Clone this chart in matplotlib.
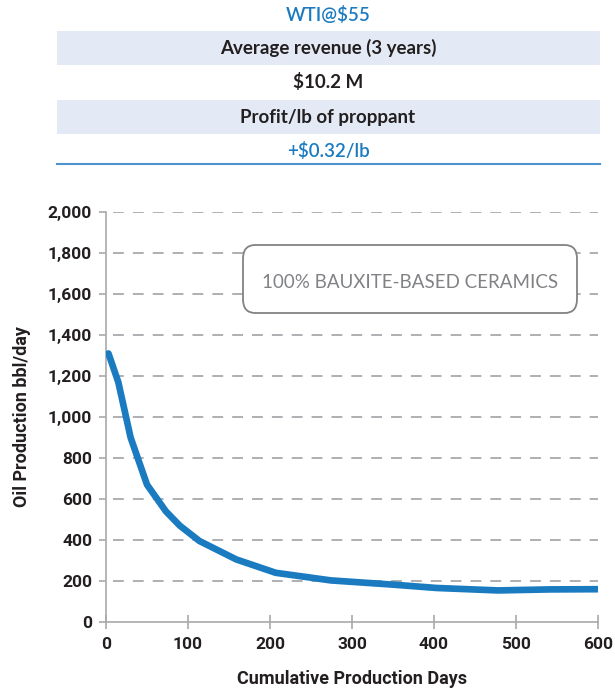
import matplotlib.pyplot as plt
from matplotlib.patches import FancyBboxPatch, Rectangle

# data
days = [3, 15, 30, 50, 73, 90, 114, 159, 207, 274, 351, 403, 478, 542, 600]
oil = [1310, 1170, 900, 670, 540, 470, 395, 305, 240, 203, 182, 166, 154, 159, 160]
y_ticks = [0, 200, 400, 600, 800, 1000, 1200, 1400, 1600, 1800, 2000]
x_ticks = [0, 100, 200, 300, 400, 500, 600]
table_rows = ['WTI@$55', 'Average revenue (3 years)', '$10.2 M', 'Profit/lb of proppant', '+$0.32/lb']

blue = '#1a7bc1'
gray = '#a7a9ac'
dark = '#231f20'
cond = dict(family=['Liberation Sans Narrow', 'Roboto', 'DejaVu Sans'], fontweight='bold')

fig = plt.figure(figsize=(6.15, 6.9), dpi=100)
W, H = 615, 690

# table on top
row_y = [15, 48, 82, 117, 151]
for i, (txt, yy) in enumerate(zip(table_rows, row_y)):
    if i in (1, 3):
        fig.patches.append(Rectangle((57 / W, 1 - (yy + 17) / H), 543 / W, 34 / H,
                                     transform=fig.transFigure, facecolor='#e4eaf5',
                                     edgecolor='none'))
    color = blue if i in (0, 4) else dark
    fig.text(328 / W, 1 - yy / H, txt, ha='center', va='center', fontsize=13.5,
             family=['Lato', 'DejaVu Sans'], color=color,
             fontweight='bold' if i in (1, 2, 3) else 'semibold')
fig.add_artist(plt.Line2D([57 / W, 600 / W], [1 - 164 / H, 1 - 164 / H],
                          transform=fig.transFigure, color='#4f93cf', lw=1.5))

ax = fig.add_axes([106 / W, 68 / H, 492 / W, 410 / H])
ax.plot(days, oil, color=blue, lw=4.8, solid_capstyle='round', solid_joinstyle='round', zorder=3)

ax.set_xlim(0, 600)
ax.set_ylim(0, 2000)
ax.set_xticks(x_ticks)
ax.set_yticks(y_ticks)
ax.set_yticklabels([f'{v:,}' for v in y_ticks])
for s in ['top', 'right']:
    ax.spines[s].set_visible(False)
for s in ['left', 'bottom']:
    ax.spines[s].set_color(gray)
    ax.spines[s].set_linewidth(1.2)
ax.tick_params(axis='x', direction='inout', length=10, width=1.2, color=gray, pad=6)
ax.tick_params(axis='y', direction='out', length=5, width=1.2, color=gray, pad=5)
for lab in ax.get_xticklabels() + ax.get_yticklabels():
    lab.set(**cond)
    lab.set_fontsize(12.5)
    lab.set_color(dark)
for v in y_ticks[1:]:
    ax.plot([8, 600], [v, v], color=gray, lw=1.3, dashes=(6, 5), zorder=1)

ax.set_xlabel('Cumulative Production Days', fontsize=13, color=dark, labelpad=13, **cond)
ax.set_ylabel('Oil Production bbl/day', fontsize=13, color=dark, labelpad=12, **cond)

# label box
box = FancyBboxPatch((243 / W, 1 - 313 / H), 334 / W, 68 / H, transform=fig.transFigure,
                     boxstyle='round,pad=0,rounding_size=0.02', facecolor='white',
                     edgecolor='#808285', lw=1.3, zorder=5)
fig.patches.append(box)
fig.text(410 / W, 1 - 282 / H, '100% BAUXITE-BASED CERAMICS', ha='center', va='center',
         fontsize=13.5, family=['Lato', 'DejaVu Sans'], color='#808285', zorder=6)

fig.savefig('out.png', dpi=100)
